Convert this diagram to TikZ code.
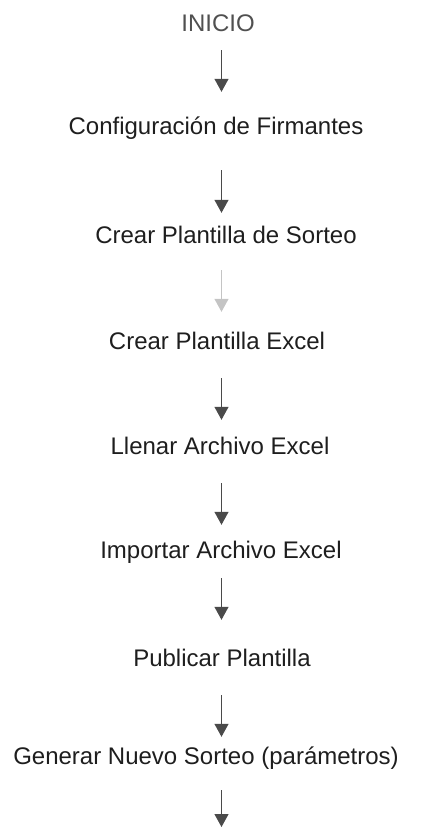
\documentclass[tikz,border=0pt]{standalone}
\usepackage{fontspec}
\setmainfont{Liberation Sans}
\usepackage{tikz}
\usetikzlibrary{arrows.meta,calc}
\definecolor{texto}{HTML}{1E1E1E}
\definecolor{textoclaro}{HTML}{505050}
\definecolor{flechagris}{HTML}{4A4A4A}
\definecolor{flechaclara}{HTML}{C4C4C4}

\begin{document}
\begin{tikzpicture}[x=1pt,y=-1pt,
  paso/.style={anchor=base, inner sep=0pt, text height=17pt, text depth=5pt, text=texto, font=\fontsize{24}{28}\selectfont},
  flecha/.style={draw=flechagris, line width=1.1pt, -{Triangle[length=13pt,width=14pt]}, fill=flechagris}]
\useasboundingbox (0,0) rectangle (433,827);
\coordinate (eje) at (221.5,0);
\coordinate (fin) at (221.5,827);

\node[paso, text=textoclaro] (inicio) at (218,31) {INICIO};
\node[paso] (firmantes) at (216,134) {Configuración de Firmantes};
\node[paso] (sorteo) at (226,243) {Crear Plantilla de Sorteo};
\node[paso] (plantexcel) at (217,349) {Crear Plantilla Excel};
\node[paso] (llenar) at (220,454) {Llenar Archivo Excel};
\node[paso] (importar) at (221,558) {Importar Archivo Excel};
\node[paso] (publicar) at (222,666) {Publicar Plantilla};
\node[paso] (generar) at (206,764) {Generar Nuevo Sorteo (parámetros)};

\draw[flecha, shorten <=14pt, shorten >=25pt] (inicio.south -| eje) -- (firmantes.north -| eje);
\draw[flecha, shorten <=31pt, shorten >=13pt] (firmantes.south -| eje) -- (sorteo.north -| eje);
\draw[flecha, draw=flechaclara, fill=flechaclara, shorten <=22pt, shorten >=20pt] (sorteo.south -| eje) -- (plantexcel.north -| eje);
\draw[flecha, shorten <=24pt, shorten >=17pt] (plantexcel.south -| eje) -- (llenar.north -| eje);
\draw[flecha, shorten <=24pt, shorten >=16pt] (llenar.south -| eje) -- (importar.north -| eje);
\draw[flecha, shorten <=15pt, shorten >=29pt] (importar.south -| eje) -- (publicar.north -| eje);
\draw[flecha, shorten <=24pt, shorten >=10pt] (publicar.south -| eje) -- (generar.north -| eje);
\draw[flecha, shorten <=21pt] (generar.south -| eje) -- (fin);
\end{tikzpicture}
\end{document}
